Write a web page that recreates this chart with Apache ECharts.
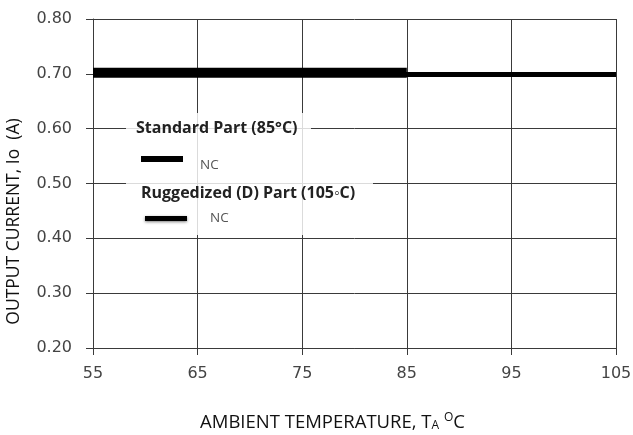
<!DOCTYPE html>
<html><head><meta charset="utf-8">
<script src="https://cdn.jsdelivr.net/npm/echarts@6/dist/echarts.min.js"></script>
<style>html,body{margin:0;padding:0;background:#fff}#c{width:633px;height:435px}</style>
</head><body><div id="c"></div>
<script>
// Data
const xTicks = [55, 65, 75, 85, 95, 105];
const standardX = [55, 85];
const standardY = [0.702, 0.702];
const ruggedX = [55, 105];
const ruggedY = [0.699, 0.699];
const legendStd = 'Standard Part (85°C)';
const legendRug = 'Ruggedized (D) Part (105◦C)';
const legendNote = 'NC';

const chart = echarts.init(document.getElementById('c'), null, {renderer: 'canvas'});
const gridColor = '#3a3a3a';
const labelFont = 'DejaVu Sans';
chart.setOption({
  backgroundColor: '#fff',
  animation: false,
  grid: {left: 93, right: 17, top: 19, bottom: 87, containLabel: false, outerBoundsMode: 'none'},
  xAxis: {
    type: 'value', min: 55, max: 105, interval: 10,
    axisLine: {show: true, lineStyle: {color: gridColor, width: 1}},
    axisTick: {show: true, length: 7, lineStyle: {color: gridColor}},
    splitLine: {show: true, lineStyle: {color: gridColor, width: 1}},
    axisLabel: {color: '#444', fontSize: 16, fontFamily: labelFont, margin: 18, showMaxLabel: true, showMinLabel: true},
    name: 'AMBIENT TEMPERATURE, T{sub|A} {sup|O}C',
    nameLocation: 'middle', nameGap: 64,
    nameTextStyle: {color: '#111', fontSize: 18.5, fontFamily: 'Open Sans', padding: [0, 44, 0, 0],
      rich: {sub: {fontSize: 12, fontFamily: 'Open Sans', color: '#111', padding: [6,0,0,0]},
             sup: {fontSize: 12, fontFamily: 'Open Sans', color: '#111', padding: [0,0,9,0]}}}
  },
  yAxis: {
    type: 'value', min: 0.2, max: 0.8, interval: 0.1,
    axisLine: {show: true, lineStyle: {color: gridColor, width: 1}},
    axisTick: {show: true, length: 7, lineStyle: {color: gridColor}},
    splitLine: {show: true, lineStyle: {color: gridColor, width: 1}},
    axisLabel: {color: '#444', fontSize: 16, fontFamily: labelFont, margin: 21, formatter: v => v.toFixed(2)},
    name: 'OUTPUT CURRENT, Io  (A)', nameLocation: 'middle', nameGap: 70, nameRotate: 90,
    nameTextStyle: {color: '#111', fontSize: 17.5, fontFamily: 'Open Sans', padding: [0, 76, 0, 0]}
  },
  series: [
    {type: 'line', name: 'Ruggedized', data: ruggedX.map((x, i) => [x, ruggedY[i]]), symbol: 'none',
     lineStyle: {color: '#000', width: 5, cap: 'butt'}, z: 3},
    {type: 'line', name: 'Standard', data: standardX.map((x, i) => [x, standardY[i]]), symbol: 'none',
     lineStyle: {color: '#000', width: 10, cap: 'butt'}, z: 4}
  ],
  graphic: [
    {type: 'polygon', z: 50, shape: {points: [[126,113],[311,113],[311,178],[373,178],[373,235],[126,235]]},
     style: {fill: 'rgba(255,255,255,0.82)'}},
    {type: 'text', z: 51, left: 136, top: 120, style: {text: legendStd, font: 'bold 16px "Open Sans"', fill: '#222'}},
    {type: 'rect', z: 51, shape: {x: 141, y: 156, width: 42, height: 6}, style: {fill: '#000'}},
    {type: 'text', z: 51, left: 200, top: 158, style: {text: legendNote, font: '13.5px "Open Sans"', fill: '#555'}},
    {type: 'text', z: 51, left: 141, top: 185, style: {text: legendRug, font: 'bold 16px "Open Sans"', fill: '#222'}},
    {type: 'rect', z: 51, shape: {x: 145, y: 216, width: 42, height: 5},
     style: {fill: '#000', shadowBlur: 3, shadowColor: 'rgba(0,0,0,0.5)', shadowOffsetY: 1}},
    {type: 'text', z: 51, left: 210, top: 211, style: {text: legendNote, font: '13.5px "Open Sans"', fill: '#555'}}
  ]
});
</script></body></html>
